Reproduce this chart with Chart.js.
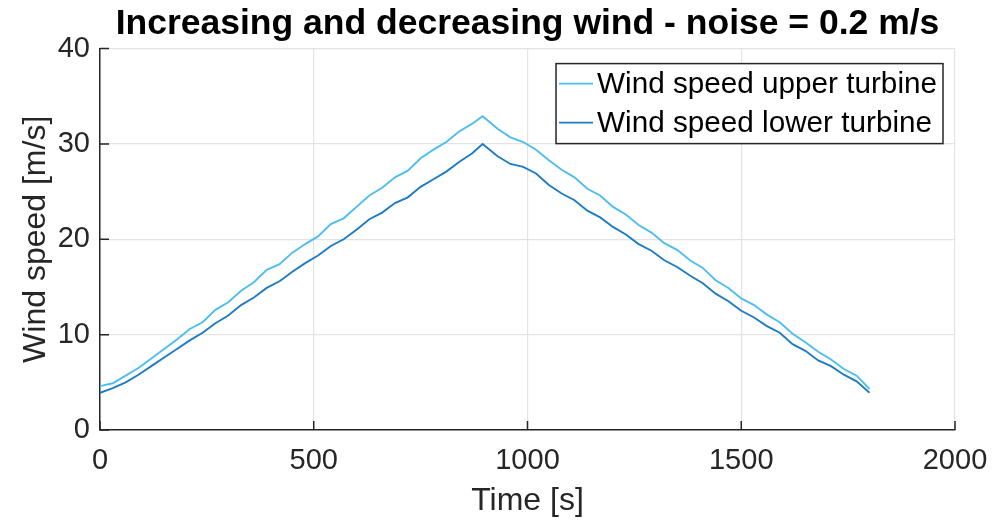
<!DOCTYPE html>
<html>
<head>
<meta charset="utf-8">
<script src="https://cdn.jsdelivr.net/npm/chart.js@4.4.1/dist/chart.umd.min.js"></script>
<style>
  html, body { margin: 0; padding: 0; background: #fff; }
  #wrap { width: 996px; height: 520px; }
</style>
</head>
<body>
<div id="wrap"><canvas id="windChart" width="996" height="520"></canvas></div>
<script>
// time samples [s]
const timeS = [0, 30, 60, 90, 120, 150, 180, 210, 240, 270, 300, 330, 360, 390, 420, 450, 480, 510, 540, 570,
    600, 630, 660, 690, 720, 750, 780, 810, 840, 870, 895, 930, 960, 990, 1020, 1050, 1080, 1110, 1140, 1170,
    1200, 1230, 1260, 1290, 1320, 1350, 1380, 1410, 1440, 1470, 1500, 1530, 1560, 1590, 1620, 1650, 1680, 1710,
    1740, 1770, 1800];

// wind speed [m/s]
const upperWind = [4.6, 4.9, 5.7, 6.5, 7.5, 8.5, 9.5, 10.6, 11.3, 12.6, 13.4, 14.6, 15.5, 16.8, 17.4, 18.6, 19.5, 20.3, 21.6, 22.2,
    23.4, 24.6, 25.4, 26.5, 27.2, 28.5, 29.4, 30.2, 31.3, 32.1, 32.9, 31.6, 30.7, 30.2, 29.4, 28.3, 27.3, 26.5, 25.3, 24.6,
    23.4, 22.6, 21.5, 20.7, 19.6, 18.9, 17.8, 17.0, 15.7, 14.9, 13.8, 13.1, 12.1, 11.3, 10.1, 9.2, 8.2, 7.4,
    6.4, 5.7, 4.3];
const lowerWind = [3.9, 4.4, 5.0, 5.8, 6.7, 7.6, 8.5, 9.4, 10.2, 11.2, 12.0, 13.1, 13.9, 14.9, 15.6, 16.6, 17.5, 18.3, 19.3, 20.0,
    21.0, 22.1, 22.8, 23.8, 24.4, 25.5, 26.3, 27.1, 28.1, 29.0, 30.0, 28.7, 27.9, 27.6, 26.9, 25.7, 24.8, 24.1, 23.0, 22.3,
    21.3, 20.5, 19.5, 18.8, 17.8, 17.1, 16.2, 15.4, 14.3, 13.5, 12.5, 11.8, 10.9, 10.2, 9.0, 8.3, 7.3, 6.7,
    5.8, 5.1, 3.9];

const seriesNames = ['Wind speed upper turbine', 'Wind speed lower turbine'];
const seriesColors = ['#4dbeee', '#1f7cc2'];

const xTicks = [0, 500, 1000, 1500, 2000];
const yTicks = [0, 10, 20, 30, 40];

const axisColor = '#262626';
const fontFamily = '"Liberation Sans", Arial, Helvetica, sans-serif';

// MATLAB style ticks pointing into the plot
const innerTicks = {
    id: 'innerTicks',
    afterDatasetsDraw(chart) {
        const {ctx, chartArea, scales} = chart;
        ctx.save();
        ctx.strokeStyle = axisColor;
        ctx.lineWidth = 1.5;
        ctx.beginPath();
        xTicks.forEach(v => {
            const px = scales.x.getPixelForValue(v);
            ctx.moveTo(px, chartArea.bottom);
            ctx.lineTo(px, chartArea.bottom - 9);
        });
        yTicks.forEach(v => {
            const py = scales.y.getPixelForValue(v);
            ctx.moveTo(chartArea.left, py);
            ctx.lineTo(chartArea.left + 9, py);
        });
        ctx.stroke();
        ctx.restore();
    }
};

// boxed legend inside the top right corner
const boxLegend = {
    id: 'boxLegend',
    afterDraw(chart) {
        const {ctx, chartArea} = chart;
        ctx.save();
        ctx.font = '29.7px ' + fontFamily;
        const textW = Math.max(...chart.data.datasets.map(d => ctx.measureText(d.label).width));
        const rowH = 39;
        const w = 3 + 34 + 4 + textW + 6;
        const h = rowH * chart.data.datasets.length + 2;
        const right = chartArea.right - 12;
        const top = chartArea.top + 15;
        const left = right - w;
        ctx.fillStyle = '#fff';
        ctx.fillRect(left, top, w, h);
        ctx.strokeStyle = axisColor;
        ctx.lineWidth = 1.5;
        ctx.strokeRect(left, top, w, h);
        chart.data.datasets.forEach((d, i) => {
            const cy = top + 20 + i * rowH;
            ctx.strokeStyle = d.borderColor;
            ctx.lineWidth = 1.8;
            ctx.beginPath();
            ctx.moveTo(left + 3, cy);
            ctx.lineTo(left + 37, cy);
            ctx.stroke();
            ctx.fillStyle = '#000';
            ctx.textBaseline = 'middle';
            ctx.textAlign = 'left';
            ctx.fillText(d.label, left + 41, cy + 1);
        });
        ctx.restore();
    }
};

function toPoints(xs, ys) {
    return xs.map((x, i) => ({x: x, y: ys[i]}));
}

const ctx = document.getElementById('windChart').getContext('2d');
new Chart(ctx, {
    type: 'line',
    data: {
        datasets: [{
            label: seriesNames[0],
            data: toPoints(timeS, upperWind),
            borderColor: seriesColors[0],
            borderWidth: 1.9,
            pointRadius: 0,
            fill: false,
            tension: 0
        }, {
            label: seriesNames[1],
            data: toPoints(timeS, lowerWind),
            borderColor: seriesColors[1],
            borderWidth: 1.9,
            pointRadius: 0,
            fill: false,
            tension: 0
        }]
    },
    options: {
        responsive: false,
        animation: false,
        layout: {
            padding: {left: 0, right: 41, top: 0, bottom: 0}
        },
        plugins: {
            legend: {display: false},
            tooltip: {enabled: false},
            title: {
                display: true,
                fullSize: false,
                text: 'Increasing and decreasing wind - noise = 0.2 m/s',
                color: '#000',
                font: {family: fontFamily, size: 35.5, weight: 'bold'},
                padding: {top: 3, bottom: 3}
            }
        },
        scales: {
            x: {
                type: 'linear',
                min: 0,
                max: 2000,
                afterFit(scale) {
                    scale.height = 90;
                    scale.paddingLeft = 0;
                    scale.paddingRight = 0;
                },
                afterBuildTicks(scale) { scale.ticks = xTicks.map(v => ({value: v})); },
                ticks: {
                    color: axisColor,
                    padding: 14,
                    font: {family: fontFamily, size: 29},
                    callback: v => String(v)
                },
                grid: {color: '#e3e3e3', lineWidth: 1.2, drawTicks: false},
                border: {color: axisColor, width: 1.5},
                title: {
                    display: true,
                    text: 'Time [s]',
                    color: axisColor,
                    font: {family: fontFamily, size: 32},
                    padding: {top: 0, bottom: 0}
                }
            },
            y: {
                type: 'linear',
                min: 0,
                max: 40,
                afterFit(scale) {
                    scale.width = 100;
                    scale.paddingTop = 0;
                    scale.paddingBottom = 0;
                },
                afterBuildTicks(scale) { scale.ticks = yTicks.map(v => ({value: v})); },
                ticks: {
                    color: axisColor,
                    padding: 10,
                    font: {family: fontFamily, size: 29},
                    callback: v => String(v)
                },
                grid: {color: '#e3e3e3', lineWidth: 1.2, drawTicks: false},
                border: {color: axisColor, width: 1.5},
                title: {
                    display: true,
                    text: 'Wind speed [m/s]',
                    color: axisColor,
                    font: {family: fontFamily, size: 32},
                    padding: {top: 17, bottom: 0}
                }
            }
        }
    },
    plugins: [innerTicks, boxLegend]
});
</script>
</body>
</html>
